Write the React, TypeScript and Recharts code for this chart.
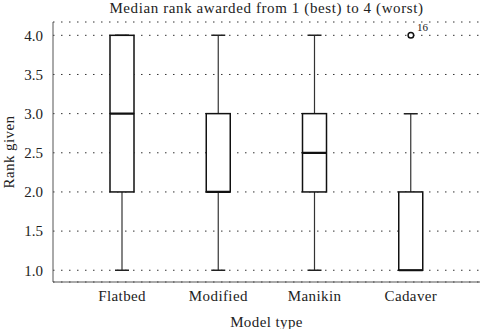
import React from "react";
import {
  ComposedChart,
  Bar,
  Scatter,
  XAxis,
  YAxis,
  CartesianGrid,
} from "recharts";

const categories = ["Flatbed", "Modified", "Manikin", "Cadaver"];
const mins = [1, 1, 1, 1];
const q1s = [2, 2, 2, 1];
const medians = [3, 2, 2.5, 1];
const q3s = [4, 3, 3, 2];
const maxs = [4, 4, 4, 3];
const outliers = [null, null, null, 4];
const outlierLabels = ["", "", "", "16"];
const yTicks = [1, 1.5, 2, 2.5, 3, 3.5, 4];

const data = categories.map((name, i) => ({
  name,
  range: [mins[i], maxs[i]],
  min: mins[i],
  q1: q1s[i],
  median: medians[i],
  q3: q3s[i],
  max: maxs[i],
  outlier: outliers[i],
  outlierLabel: outlierLabels[i],
}));

const FONT = '"Liberation Serif", "DejaVu Serif", serif';

// draws whiskers, box and median from the range bar's pixel extent
function BoxShape(props: any) {
  const { x, y, width, height, payload } = props;
  if (x == null || y == null) return null;
  const top = Math.min(y, y + height);
  const bottom = Math.max(y, y + height);
  const span = payload.max - payload.min;
  const toPx = (v: number) =>
    bottom - ((v - payload.min) / span) * (bottom - top);
  const cx = x + width / 2;
  const cap = 14;
  const yq1 = toPx(payload.q1);
  const yq3 = toPx(payload.q3);
  const ymed = toPx(payload.median);
  return (
    <g>
      <line x1={cx} x2={cx} y1={top} y2={yq3} stroke="#333" strokeWidth={1.2} />
      <line x1={cx} x2={cx} y1={yq1} y2={bottom} stroke="#333" strokeWidth={1.2} />
      <line x1={cx - cap / 2} x2={cx + cap / 2} y1={top} y2={top} stroke="#222" strokeWidth={1.5} />
      <line x1={cx - cap / 2} x2={cx + cap / 2} y1={bottom} y2={bottom} stroke="#222" strokeWidth={1.5} />
      <rect
        x={x}
        y={yq3}
        width={width}
        height={Math.max(yq1 - yq3, 0)}
        fill="#fff"
        stroke="#111"
        strokeWidth={1.5}
      />
      <line x1={x} x2={x + width} y1={ymed} y2={ymed} stroke="#111" strokeWidth={2.2} />
    </g>
  );
}

function OutlierShape(props: any) {
  const { cx, cy, payload } = props;
  if (cx == null || cy == null || payload.outlier == null) return null;
  return (
    <g>
      <circle cx={cx} cy={cy} r={2.8} fill="#fff" stroke="#111" strokeWidth={1.5} />
      <text x={cx + 6} y={cy - 4} fontSize={11} fontFamily={FONT} fill="#222">
        {payload.outlierLabel}
      </text>
    </g>
  );
}

export default function App() {
  return (
    <div style={{ position: "absolute", left: 0, top: 0, width: 480, height: 329, background: "#fff" }}>
      <div
        style={{
          position: "absolute",
          left: 53,
          width: 427,
          top: -1,
          textAlign: "center",
          fontFamily: FONT,
          fontSize: 15,
          letterSpacing: 0.6,
          color: "#222",
          lineHeight: "18px",
        }}
      >
        Median rank awarded from 1 (best) to 4 (worst)
      </div>
      <ComposedChart
        width={480}
        height={329}
        data={data}
        margin={{ top: 22, right: 0, bottom: 0, left: 0 }}
      >
        <CartesianGrid vertical={false} stroke="#333" strokeDasharray="1.5 6.5" />
        <XAxis
          dataKey="name"
          height={47}
          padding={{ left: 21, right: 21 }}
          tickLine={false}
          tickSize={0}
          tickMargin={8}
          stroke="#555"
          tick={{ fontSize: 15, fill: "#222", fontFamily: FONT, letterSpacing: 0.4 }}
          label={{
            value: "Model type",
            position: "insideBottom",
            offset: 2,
            fontSize: 15,
            fill: "#222",
            fontFamily: FONT,
            letterSpacing: 0.4,
          }}
        />
        <YAxis
          width={53}
          domain={[0.85, 4.17]}
          ticks={yTicks}
          allowDataOverflow
          tickFormatter={(v: number) => v.toFixed(1)}
          tickLine={false}
          tickSize={0}
          tickMargin={10}
          stroke="#555"
          tick={{ fontSize: 15, fill: "#222", fontFamily: FONT }}
          label={{
            value: "Rank given",
            angle: -90,
            position: "insideLeft",
            offset: 9,
            style: { textAnchor: "middle" },
            fontSize: 15,
            fill: "#222",
            fontFamily: FONT,
            letterSpacing: 0.4,
          }}
        />
        <Bar dataKey="range" barSize={24} shape={<BoxShape />} isAnimationActive={false} />
        <Scatter dataKey="outlier" shape={<OutlierShape />} isAnimationActive={false} />
      </ComposedChart>
    </div>
  );
}
